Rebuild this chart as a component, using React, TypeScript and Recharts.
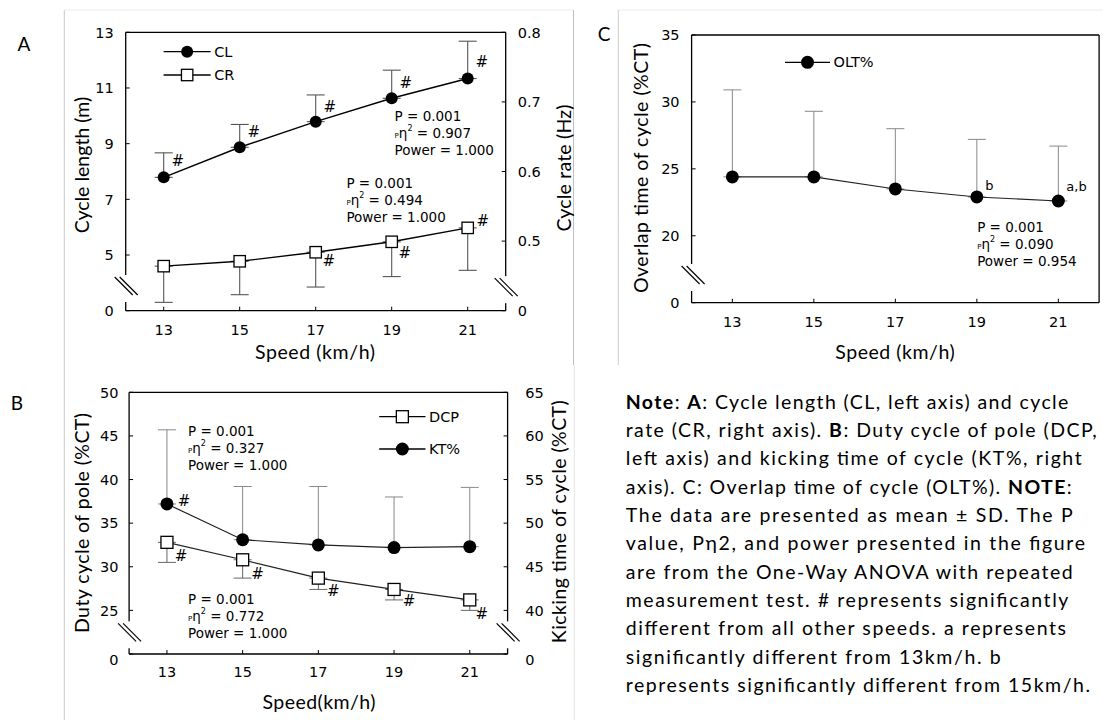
import React from "react";
import {
  LineChart,
  Line,
  XAxis,
  YAxis,
  ErrorBar,
  ReferenceLine,
} from "recharts";

// speeds (km/h)
const speeds = [13, 15, 17, 19, 21];

// panel A
const clMean = [7.79, 8.87, 9.79, 10.63, 11.34];
const clSD = [0.88, 0.82, 0.96, 1.01, 1.34];
const clMarks = ["#", "#", "#", "#", "#"];
const crMean = [0.464, 0.471, 0.484, 0.499, 0.519];
const crSD = [0.052, 0.048, 0.05, 0.05, 0.061];
const crMarks = ["", "", "#", "#", "#"];

// panel B
const dcpMean = [32.8, 30.8, 28.7, 27.4, 26.2];
const dcpSD = [2.3, 2.1, 1.3, 1.2, 1.2];
const dcpMarks = ["#", "#", "#", "#", "#"];
const ktMean = [52.2, 48.1, 47.5, 47.2, 47.3];
const ktSD = [8.5, 6.1, 6.7, 5.8, 6.8];
const ktMarks = ["#", "", "", "", ""];

// panel C
const oltMean = [24.4, 24.4, 23.5, 22.9, 22.6];
const oltSD = [6.5, 4.9, 4.5, 4.3, 4.1];
const oltMarks = ["", "", "", "b", "a,b"];

// axis ticks (lowest tick is printed as "0" with an axis break)
const ticksCL = [3, 5, 7, 9, 11, 13];
const ticksCR = [0.4, 0.5, 0.6, 0.7, 0.8];
const ticksDCP = [20, 25, 30, 35, 40, 45, 50];
const ticksKT = [35, 40, 45, 50, 55, 60, 65];
const ticksOLT = [15, 20, 25, 30, 35];

const dataA = speeds.map((s, i) => ({
  speed: s,
  cl: clMean[i],
  clErr: [0, clSD[i]],
  clMark: clMarks[i],
  cr: crMean[i],
  crErr: [crSD[i], 0],
  crMark: crMarks[i],
}));

const dataB = speeds.map((s, i) => ({
  speed: s,
  dcp: dcpMean[i],
  dcpErr: [dcpSD[i], 0],
  dcpMark: dcpMarks[i],
  kt: ktMean[i],
  ktErr: [0, ktSD[i]],
  ktMark: ktMarks[i],
}));

const dataC = speeds.map((s, i) => ({
  speed: s,
  olt: oltMean[i],
  oltErr: [0, oltSD[i]],
  oltMark: oltMarks[i],
}));

const tickFont = "'DejaVu Sans', Verdana, sans-serif";
const titleFont = "Lato, 'Noto Sans', sans-serif";
const axisStroke = { stroke: "#000", strokeWidth: 1.3 };

function yTick(side: "left" | "right", floor: number, shift: number, zeroDy: number, breakDy: number, breakDx = 0) {
  return function Tick(props: any) {
    const { x, y, payload } = props;
    const v = payload.value;
    const isFloor = Math.abs(v - floor) < 1e-9;
    const ax = (side === "left" ? x + shift : x - shift) + breakDx;
    const by = y - breakDy;
    return (
      <g>
        <text
          x={x}
          y={isFloor ? y + zeroDy : y}
          dy="0.36em"
          textAnchor={side === "left" ? "end" : "start"}
          fontFamily={tickFont}
          fontSize={14.5}
          fill="#000"
        >
          {isFloor ? "0" : String(v)}
        </text>
        {isFloor && (
          <g>
            <rect x={ax - 4} y={by - 11} width={8} height={27} fill="#fff" />
            <line x1={ax - 12} y1={by - 9} x2={ax + 6} y2={by + 9} stroke="#000" strokeWidth={1.2} />
            <line x1={ax - 7} y1={by - 9} x2={ax + 11} y2={by + 9} stroke="#000" strokeWidth={1.2} />
          </g>
        )}
      </g>
    );
  };
}

function makeDot(shape: "circle" | "square", size: number, markKey: string, offs: number[][], anchor = "middle") {
  return function Dot(p: any) {
    const { cx, cy, index, payload } = p;
    if (cx == null || cy == null) return <g key={"e" + index} />;
    const mark = payload[markKey];
    return (
      <g key={"d" + index}>
        {shape === "circle" ? (
          <circle cx={cx} cy={cy} r={size} fill="#000" />
        ) : (
          <rect x={cx - size} y={cy - size} width={size * 2} height={size * 2} fill="#fff" stroke="#000" strokeWidth={1.3} />
        )}
        {mark ? (
          <text
            x={cx + offs[index][0]}
            y={cy + offs[index][1]}
            textAnchor={anchor}
            dominantBaseline="central"
            fontFamily={tickFont}
            fontSize={anchor === "middle" ? 15 : 13}
            fill="#000"
          >
            {mark}
          </text>
        ) : null}
      </g>
    );
  };
}

const offCL = [[14, -16], [14, -15], [14, -15], [14, -15], [14, -17]];
const offCR = [[13, 10], [13, 10], [13, 9], [13, 11], [15, -7]];
const offDCP = [[14, 14], [15, 14], [15, 13], [15, 12], [12, 14]];
const offKT = [[17, -3], [16, -3], [16, -3], [16, -3], [16, -3]];
const offOLT = [[8.5, -11], [8.5, -11], [8.5, -11], [8.5, -11], [8, -14.5]];

const xTick = { fontFamily: tickFont, fontSize: 14.5, fill: "#000" };

function PanelA() {
  return (
    <LineChart width={560} height={370} data={dataA} margin={{ top: 32.3, right: 0, bottom: 0, left: 0 }}>
      <XAxis dataKey="speed" type="number" domain={[12, 22]} ticks={speeds} interval={0} allowDataOverflow
        height={59.3} tickSize={-4} tickMargin={18.3} axisLine={axisStroke} tickLine={{ stroke: "#000" }} tick={xTick} />
      <YAxis yAxisId="l" domain={[3, 13]} ticks={ticksCL} interval={0} allowDataOverflow width={125.7}
        tickSize={-4} tickMargin={16} axisLine={axisStroke} tickLine={{ stroke: "#000" }} tick={yTick("left", 3, 12, 0, 24.7, 1)} />
      <YAxis yAxisId="r" orientation="right" domain={[0.4, 0.8]} ticks={ticksCR} interval={0} allowDataOverflow width={54.3}
        tickSize={-4} tickMargin={16} axisLine={axisStroke} tickLine={{ stroke: "#000" }} tick={yTick("right", 0.4, 12, 0, 23.5, 1)} />
      <ReferenceLine yAxisId="l" y={13} stroke="#000" strokeWidth={1.3} />
      <Line yAxisId="l" type="linear" dataKey="cl" stroke="#000" strokeWidth={1.4} isAnimationActive={false}
        dot={makeDot("circle", 6, "clMark", offCL)} activeDot={false}>
        <ErrorBar dataKey="clErr" direction="y" width={9} stroke="#555" strokeWidth={1.1} isAnimationActive={false} />
      </Line>
      <Line yAxisId="r" type="linear" dataKey="cr" stroke="#000" strokeWidth={1.4} isAnimationActive={false}
        dot={makeDot("square", 5.7, "crMark", offCR)} activeDot={false}>
        <ErrorBar dataKey="crErr" direction="y" width={9} stroke="#555" strokeWidth={1.1} isAnimationActive={false} />
      </Line>
    </LineChart>
  );
}

function PanelB() {
  return (
    <LineChart width={580} height={350} data={dataB} margin={{ top: 22.3, right: 0, bottom: 0, left: 0 }}>
      <XAxis dataKey="speed" type="number" domain={[12, 22]} ticks={speeds} interval={0} allowDataOverflow
        height={66} tickSize={-4} tickMargin={16.7} axisLine={axisStroke} tickLine={{ stroke: "#000" }} tick={xTick} />
      <YAxis yAxisId="l" domain={[20, 50]} ticks={ticksDCP} interval={0} allowDataOverflow width={129.1}
        tickSize={-4} tickMargin={14.7} axisLine={axisStroke} tickLine={{ stroke: "#000" }} tick={yTick("left", 20, 10.7, 6, 21.7, 1)} />
      <YAxis yAxisId="r" orientation="right" domain={[35, 65]} ticks={ticksKT} interval={0} allowDataOverflow width={72.4}
        tickSize={-4} tickMargin={21.7} axisLine={axisStroke} tickLine={{ stroke: "#000" }} tick={yTick("right", 35, 17.7, 6, 21.7, 1)} />
      <ReferenceLine yAxisId="l" y={50} stroke="#000" strokeWidth={1.3} />
      <Line yAxisId="r" type="linear" dataKey="kt" stroke="#222" strokeWidth={1.2} isAnimationActive={false}
        dot={makeDot("circle", 6.5, "ktMark", offKT)} activeDot={false}>
        <ErrorBar dataKey="ktErr" direction="y" width={9} stroke="#888" strokeWidth={1} isAnimationActive={false} />
      </Line>
      <Line yAxisId="l" type="linear" dataKey="dcp" stroke="#222" strokeWidth={1.2} isAnimationActive={false}
        dot={makeDot("square", 6, "dcpMark", offDCP)} activeDot={false}>
        <ErrorBar dataKey="dcpErr" direction="y" width={9} stroke="#666" strokeWidth={1} isAnimationActive={false} />
      </Line>
    </LineChart>
  );
}

function PanelC() {
  return (
    <LineChart width={543} height={370} data={dataC} margin={{ top: 35, right: 3.9, bottom: 0, left: 0 }}>
      <XAxis dataKey="speed" type="number" domain={[12, 22]} ticks={speeds} interval={0} allowDataOverflow
        height={67.3} tickSize={-4} tickMargin={18} axisLine={axisStroke} tickLine={{ stroke: "#000" }} tick={xTick} />
      <YAxis domain={[15, 35]} ticks={ticksOLT} interval={0} allowDataOverflow width={131.6}
        tickSize={-4} tickMargin={16} axisLine={axisStroke} tickLine={{ stroke: "#000" }} tick={yTick("left", 15, 12, 0, 27.7, 2)} />
      <ReferenceLine y={35} stroke="#000" strokeWidth={1.3} />
      <ReferenceLine x={22} stroke="#000" strokeWidth={1.3} />
      <Line type="linear" dataKey="olt" stroke="#222" strokeWidth={1.1} isAnimationActive={false}
        dot={makeDot("circle", 6.5, "oltMark", offOLT, "start")} activeDot={false}>
        <ErrorBar dataKey="oltErr" direction="y" width={9} stroke="#888" strokeWidth={1} isAnimationActive={false} />
      </Line>
    </LineChart>
  );
}

function VTitle({ x, y, len, text, size = 19.5 }: any) {
  return (
    <text x={x} y={y} transform={`rotate(-90 ${x} ${y})`} textAnchor="middle" dominantBaseline="central"
      textLength={len} lengthAdjust="spacing" fontFamily={titleFont} fontSize={size} fill="#000">
      {text}
    </text>
  );
}

function HTitle({ x, y, len, text, size = 19.5 }: any) {
  return (
    <text x={x} y={y} textAnchor="middle" dominantBaseline="central"
      textLength={len} lengthAdjust="spacing" fontFamily={titleFont} fontSize={size} fill="#000">
      {text}
    </text>
  );
}

function Stats({ x, y, p, eta, power }: any) {
  const f = { fontFamily: tickFont, fontSize: 13.5, fill: "#000" };
  return (
    <g>
      <text x={x} y={y} dominantBaseline="central" {...f}>P = {p}</text>
      <text x={x} y={y + 17} dominantBaseline="central" {...f}>
        <tspan fontSize={7} dy={3}>P</tspan>
        <tspan dy={-3}>η</tspan>
        <tspan fontSize={8} dy={-5}>2</tspan>
        <tspan dy={5}> = {eta}</tspan>
      </text>
      <text x={x} y={y + 34} dominantBaseline="central" {...f}>Power = {power}</text>
    </g>
  );
}

function LegendRow({ x1, x2, y, shape, label, size = 5.7 }: any) {
  const mx = (x1 + x2) / 2;
  return (
    <g>
      <line x1={x1} y1={y} x2={x2} y2={y} stroke="#000" strokeWidth={1.3} />
      {shape === "circle" ? (
        <circle cx={mx} cy={y} r={size} fill="#000" />
      ) : (
        <rect x={mx - size} y={y - size} width={size * 2} height={size * 2} fill="#fff" stroke="#000" strokeWidth={1.3} />
      )}
      <text x={x2 + 3.5} y={y} dominantBaseline="central" fontFamily={tickFont} fontSize={14.5} fill="#000">{label}</text>
    </g>
  );
}

const noteLines: { parts: [string, boolean][]; len: number }[] = [
  { parts: [["Note", true], [": ", false], ["A", true], [": Cycle length (CL, left axis) and cycle", false]], len: 442.7 },
  { parts: [["rate (CR, right axis). ", false], ["B", true], [": Duty cycle of pole (DCP,", false]], len: 471 },
  { parts: [["left axis) and kicking time of cycle (KT%, right", false]], len: 456 },
  { parts: [["axis). C: Overlap time of cycle (OLT%). ", false], ["NOTE", true], [":", false]], len: 446 },
  { parts: [["The data are presented as mean ± SD. The P", false]], len: 447 },
  { parts: [["value, Pη2, and power presented in the figure", false]], len: 459.3 },
  { parts: [["are from the One-Way ANOVA with repeated", false]], len: 447 },
  { parts: [["measurement test. # represents significantly", false]], len: 442.7 },
  { parts: [["different from all other speeds. a represents", false]], len: 440.3 },
  { parts: [["significantly different from 13km/h. b", false]], len: 375 },
  { parts: [["represents significantly different from 15km/h.", false]], len: 464.3 },
];

function Overlay() {
  return (
    <svg width={1103} height={720} style={{ position: "absolute", left: 0, top: 0, pointerEvents: "none" }}>
      <line x1={64.3} y1={10} x2={64.3} y2={720} stroke="#c8c8c8" />
      <line x1={64.3} y1={10} x2={573.5} y2={10} stroke="#ededed" />
      <line x1={618.3} y1={10} x2={1103} y2={10} stroke="#ededed" />
      <line x1={573.5} y1={10} x2={573.5} y2={365} stroke="#c0c0c0" />
      <line x1={574.3} y1={365} x2={574.3} y2={720} stroke="#e6e6e6" />
      <line x1={618.3} y1={10} x2={618.3} y2={365} stroke="#cdcdcd" />

      <text x={24} y={43} textAnchor="middle" dominantBaseline="central" fontFamily={titleFont} fontSize={19}>A</text>
      <text x={17} y={402} textAnchor="middle" dominantBaseline="central" fontFamily={titleFont} fontSize={19}>B</text>
      <text x={604} y={33} textAnchor="middle" dominantBaseline="central" fontFamily={titleFont} fontSize={19}>C</text>

      <VTitle x={81} y={165} len={136.6} text="Cycle length (m)" />
      <VTitle x={563.5} y={168} len={127} text="Cycle rate (Hz)" />
      <HTitle x={315} y={351} len={120} text="Speed (km/h)" />
      <VTitle x={81.4} y={523} len={220} text="Duty cycle of pole (%CT)" />
      <VTitle x={558.6} y={521.7} len={243} text="Kicking time of cycle (%CT)" />
      <HTitle x={319} y={701.7} len={113} text="Speed(km/h)" />
      <VTitle x={640.3} y={168} len={250} text="Overlap time of cycle (%CT)" />
      <HTitle x={895} y={351.7} len={119.4} text="Speed (km/h)" />

      <LegendRow x1={163.6} x2={210.7} y={51.7} shape="circle" label="CL" size={6} />
      <LegendRow x1={163.6} x2={210.7} y={75} shape="square" label="CR" />
      <LegendRow x1={379.2} x2={425.5} y={416.7} shape="square" label="DCP" size={6} />
      <LegendRow x1={379.2} x2={425.5} y={449} shape="circle" label="KT%" size={6.5} />
      <LegendRow x1={785} x2={830} y={62.3} shape="circle" label="OLT%" size={6.5} />

      <Stats x={394.6} y={115.7} p="0.001" eta="0.907" power="1.000" />
      <Stats x={346.4} y={182.7} p="0.001" eta="0.494" power="1.000" />
      <Stats x={188} y={430.7} p="0.001" eta="0.327" power="1.000" />
      <Stats x={188} y={599.3} p="0.001" eta="0.772" power="1.000" />
      <Stats x={977.2} y={226.7} p="0.001" eta="0.090" power="0.954" />

      {noteLines.map((ln, i) => (
        <text key={i} x={625.7} y={401.7 + i * 28.33 + 7} textLength={ln.len} lengthAdjust="spacing"
          fontFamily={titleFont} fontSize={19.5} fill="#000">
          {ln.parts.map(([t, b], j) => (
            <tspan key={j} fontWeight={b ? 700 : 400}>{t}</tspan>
          ))}
        </text>
      ))}
    </svg>
  );
}

export default function App() {
  return (
    <div style={{ position: "absolute", left: 0, top: 0, width: 1103, height: 720, background: "#fff", overflow: "hidden" }}>
      <div style={{ position: "absolute", left: 0, top: 0 }}>
        <PanelA />
      </div>
      <div style={{ position: "absolute", left: 0, top: 370 }}>
        <PanelB />
      </div>
      <div style={{ position: "absolute", left: 560, top: 0 }}>
        <PanelC />
      </div>
      <Overlay />
    </div>
  );
}
